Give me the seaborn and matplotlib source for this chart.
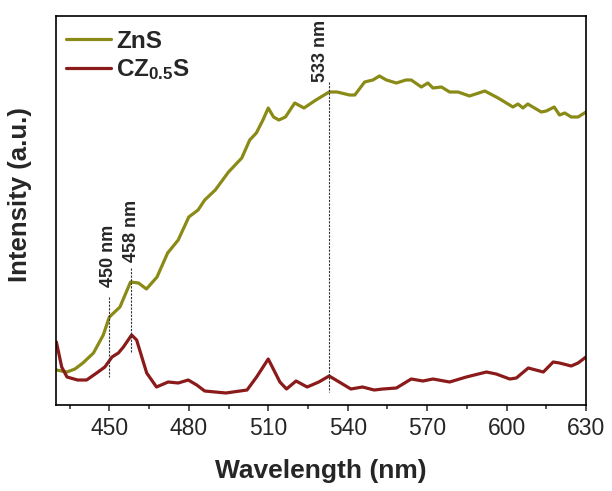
import numpy as np
import pandas as pd
import matplotlib
matplotlib.use("Agg")
import matplotlib.pyplot as plt
import seaborn as sns

# ---------------- data (arbitrary intensity units) -------------
zns_wl = [430, 434, 437, 440, 444, 447.7, 450, 454, 458, 461, 464, 468, 472, 476, 480,
          483.5, 486, 490, 495, 500, 503, 505.5, 508, 510, 512, 514, 516.5, 520, 523.5,
          528, 533, 536, 540.7, 542.7, 546.4, 549.5, 552, 554.6, 558.4, 562, 564, 567.8,
          570.3, 572.2, 575.4, 578.5, 581.7, 586, 591.8, 596.8, 599.3, 602.4, 604.3,
          606.2, 608, 613.1, 615, 618, 620, 622, 624.4, 627, 630]
zns_int = [35, 33, 36, 42, 52, 70, 88, 98, 123, 122, 116, 128, 152, 165, 188,
           195, 205, 215, 233, 247, 265, 272, 285, 297, 288, 285, 288, 302, 297,
           305, 313, 313, 310, 310, 323, 325, 329, 325, 322, 325, 325, 318,
           322, 317, 318, 313, 313, 309, 314, 307, 303, 298, 301,
           297, 301, 293, 294, 298, 290, 292, 288, 288, 293]

cz_wl = [430, 432, 434, 438, 441.4, 445.2, 448.3, 451, 453.4, 455.3, 458.4, 460.3, 464.1,
         467.8, 472.2, 476, 479.8, 483, 486, 494, 502, 505.6, 510, 514.4, 516.9, 520.5,
         524.7, 529.1, 533, 536.8, 541.2, 545.6, 550, 553.3, 558.4, 564, 568.4, 572.2,
         578.5, 584.8, 592.4, 596.1, 601.2, 603.7, 608.2, 613.9, 617.6, 620, 624.4, 627, 630]
cz_int = [63, 38, 28, 25, 25, 32, 38, 48, 52, 58, 70, 65, 32,
          18, 23, 22, 25, 20, 14, 12, 15, 28, 46, 23, 16, 24,
          18, 23, 29, 23, 16, 18, 15, 16, 17, 26, 24, 26,
          23, 28, 33, 31, 26, 27, 37, 33, 43, 42, 39, 42, 48]

series_names = ["ZnS", "CZ$_{\\mathbf{0.5}}$S"]
peak_marks = [450, 458, 533]              # wavelengths of dashed markers
peak_spans = [(108, 28), (137, 52), (323, 13)]   # top / bottom of each dashed marker
peak_labels = ["450 nm", "458 nm", "533 nm"]
label_pos = [(449.8, 118), (458.4, 143), (529.8, 323)]
xticks = [450, 480, 510, 540, 570, 600, 630]
xminor = [435, 465, 495, 525, 555, 585, 615]

# ---------------- style -----------------------------------------------------------------
sns.set_style("ticks")
plt.rcParams["font.family"] = ["Liberation Sans", "DejaVu Sans"]
plt.rcParams["mathtext.fontset"] = "custom"
plt.rcParams["mathtext.rm"] = "Liberation Sans:bold"
plt.rcParams["mathtext.bf"] = "Liberation Sans:bold"
plt.rcParams["mathtext.it"] = "Liberation Sans:bold"

olive = "#8a8a17"
darkred = "#8b1a1a"

fig = plt.figure(figsize=(6.12, 4.91), dpi=100)
ax = fig.add_axes([56.4 / 612, 1 - 405 / 491, (586 - 56.4) / 612, (405 - 16) / 491])

df_zns = pd.DataFrame({"wl": zns_wl, "I": zns_int})
df_cz = pd.DataFrame({"wl": cz_wl, "I": cz_int})
sns.lineplot(data=df_zns, x="wl", y="I", ax=ax, color=olive, lw=2.3, label=series_names[0])
sns.lineplot(data=df_cz, x="wl", y="I", ax=ax, color=darkred, lw=2.3, label=series_names[1])

# dashed peak markers
for w, (top, bot) in zip(peak_marks, peak_spans):
    ax.plot([w, w], [top, bot], ls=(0, (2, 1.2)), color="#333333", lw=0.8)

ann = dict(rotation=90, ha="center", va="bottom", fontsize=13, fontweight="bold")
for (x, y), t in zip(label_pos, peak_labels):
    ax.text(x, y, t, **ann)

ax.set_xlim(430, 630)
ax.set_ylim(0, 389)
ax.set_xticks(xticks)
ax.set_xticks(xminor, minor=True)
ax.set_yticks([])
ax.tick_params(axis="x", which="major", direction="out", length=4.5, width=1.1,
               labelsize=16.5, pad=4)
ax.tick_params(axis="x", which="minor", direction="out", length=3, width=1.1)
for sp in ax.spines.values():
    sp.set_visible(True)
    sp.set_linewidth(1.2)
    sp.set_color("black")

ax.set_xlabel("Wavelength (nm)", fontsize=19, fontweight="bold", labelpad=14)
ax.set_ylabel("Intensity (a.u.)", fontsize=18.5, fontweight="bold")
ax.yaxis.set_label_coords(-0.046, 0.54)

leg = ax.legend(loc="upper left", bbox_to_anchor=(0.019, 0.965), frameon=False,
                borderaxespad=0, borderpad=0, handlelength=1.85, handletextpad=0.2,
                labelspacing=0.2, prop={"size": 17.5, "weight": "bold"})
for line in leg.get_lines():
    line.set_linewidth(2.3)

fig.savefig("out.png", dpi=100)
